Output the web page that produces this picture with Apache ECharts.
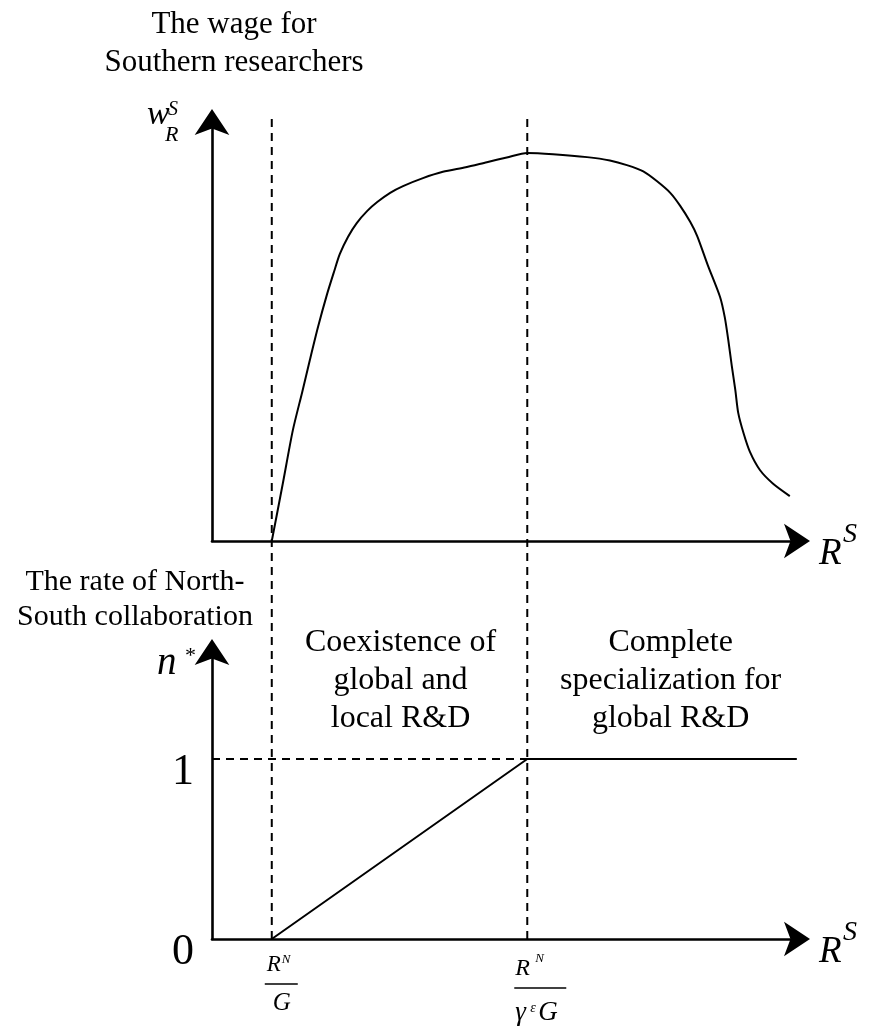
<!DOCTYPE html>
<html>
<head>
<meta charset="utf-8">
<title>Southern researchers' wage and North-South collaboration</title>
<script src="https://cdn.jsdelivr.net/npm/echarts@6/dist/echarts.min.js"></script>
<style>
  html, body { margin: 0; padding: 0; background: #ffffff; }
  #chart { width: 871px; height: 1028px; }
</style>
</head>
<body>
<div id="chart"></div>
<script>
// ---- data (R^S in arbitrary units) ----
// Threshold values of R^S: R^N/G and R^N/(γ^ε G)
const thresholds = [1.02, 5.38];

// Wage for Southern researchers w_R^S along R^S
const wageX = [1.02, 1.21, 1.38, 1.54, 1.67, 1.81, 1.96, 2.08, 2.18, 2.32, 2.47,
               2.65, 2.82, 3.04, 3.26, 3.60, 3.94, 4.33, 4.69, 5.03, 5.38,
               5.82, 6.40, 6.79, 7.08, 7.36, 7.59, 7.82, 7.99, 8.16, 8.28,
               8.46, 8.67, 8.75, 8.81, 8.87, 8.93, 8.98, 9.07, 9.18, 9.35, 9.57, 9.86];
const wageY = [0.00, 1.38, 2.64, 3.55, 4.31, 5.10, 5.86, 6.40, 6.83, 7.24, 7.57,
               7.86, 8.07, 8.29, 8.45, 8.64, 8.79, 8.90, 9.02, 9.13, 9.24,
               9.21, 9.14, 9.06, 8.95, 8.80, 8.57, 8.29, 7.98, 7.60, 7.26,
               6.57, 5.81, 5.33, 4.79, 4.17, 3.60, 3.05, 2.57, 2.12, 1.69, 1.37, 1.07];

// Rate of North-South collaboration n* along R^S
const nStarX = [1.02, 5.38, 9.98];
const nStarY = [0, 1, 1];

// Tick values and labels on the n* axis
const nStarTicks = [0, 1];
const nStarTickLabels = ['0', '1'];

// ---- drawing ----
const SERIF = '"Liberation Serif", "Times New Roman", serif';
const INK = '#000000';

const chart = echarts.init(document.getElementById('chart'), null, { renderer: 'canvas' });

const zip = (xs, ys) => xs.map((x, i) => [x, ys[i]]);

// the dashed guides run from the lower axis up through the upper panel
const GUIDE_TOP = 4.56;   // in n* units of the lower panel

function arrowAxisLine() {
  return {
    show: true,
    onZero: false,
    symbol: ['none', 'arrow'],
    symbolSize: [26, 26],
    symbolOffset: [0, 12],
    lineStyle: { color: INK, width: 2.6 }
  };
}

const dashedStyle = { color: INK, width: 2, type: [8, 6] };

const option = {
  backgroundColor: '#ffffff',
  animation: false,
  grid: [
    { left: 212, top: 121, width: 586, height: 420 },
    { left: 212, top: 651, width: 586, height: 288 }
  ],
  xAxis: [
    {
      gridIndex: 0, type: 'value', min: 0, max: 10,
      axisLine: arrowAxisLine(), axisTick: { show: false },
      axisLabel: { show: false }, splitLine: { show: false }
    },
    {
      gridIndex: 1, type: 'value', min: 0, max: 10,
      axisLine: arrowAxisLine(), axisTick: { show: false },
      axisLabel: { show: false }, splitLine: { show: false }
    }
  ],
  yAxis: [
    {
      gridIndex: 0, type: 'value', min: 0, max: 10,
      axisLine: arrowAxisLine(), axisTick: { show: false },
      axisLabel: { show: false }, splitLine: { show: false }
    },
    {
      gridIndex: 1, type: 'value', min: 0, max: 1.6,
      axisLine: arrowAxisLine(), axisTick: { show: false },
      splitLine: { show: false },
      axisLabel: {
        show: true,
        customValues: nStarTicks,
        margin: 18,
        formatter: (v) => '{d|' + nStarTickLabels[nStarTicks.indexOf(v)] + '}',
        rich: {
          d: { fontFamily: SERIF, fontSize: 44, color: INK, padding: [26, 0, 0, 0] }
        }
      }
    }
  ],
  series: [
    {
      name: 'wage', type: 'line', xAxisIndex: 0, yAxisIndex: 0,
      data: zip(wageX, wageY), smooth: 0.25, showSymbol: false,
      lineStyle: { color: INK, width: 2 }, silent: true
    },
    ...thresholds.map((t, i) => ({
      name: 'guide' + i, type: 'line', xAxisIndex: 1, yAxisIndex: 1,
      data: [[t, 0], [t, GUIDE_TOP]], clip: false, showSymbol: false,
      lineStyle: dashedStyle, silent: true
    })),
    {
      name: 'level', type: 'line', xAxisIndex: 1, yAxisIndex: 1,
      data: [[0, 1], [thresholds[1], 1]], showSymbol: false,
      lineStyle: dashedStyle, silent: true
    },
    {
      name: 'nStar', type: 'line', xAxisIndex: 1, yAxisIndex: 1,
      data: zip(nStarX, nStarY), showSymbol: false,
      lineStyle: { color: INK, width: 2 }, silent: true
    }
  ]
};

chart.setOption(option);

// ---- annotations ----
// text placed by its baseline
function txt(text, x, baseline, size, italic, align) {
  return {
    type: 'text', silent: true, z: 20,
    style: {
      text: text, x: x, y: baseline - 0.3375 * size,
      fontFamily: SERIF, fontSize: size, fontStyle: italic ? 'italic' : 'normal',
      fill: INK, align: align || 'left', verticalAlign: 'middle'
    }
  };
}
// multi-line centred block placed by its top
function block(text, cx, top, size, lineHeight) {
  return {
    type: 'text', silent: true, z: 20,
    style: {
      text: text, x: cx, y: top, fontFamily: SERIF, fontSize: size,
      lineHeight: lineHeight, fill: INK, align: 'center', verticalAlign: 'top'
    }
  };
}
function bar(x1, x2, y) {
  return {
    type: 'line', silent: true, z: 20,
    shape: { x1: x1, y1: y, x2: x2, y2: y },
    style: { stroke: INK, lineWidth: 1.5 }
  };
}

const topAxis = chart.convertToPixel({ gridIndex: 0 }, [0, 0]);
const topEnd = chart.convertToPixel({ gridIndex: 0 }, [10, 10]);
const lowAxis = chart.convertToPixel({ gridIndex: 1 }, [0, 0]);
const lowEnd = chart.convertToPixel({ gridIndex: 1 }, [10, 1.6]);
const p1 = chart.convertToPixel({ gridIndex: 1 }, [thresholds[0], 0])[0];
const p2 = chart.convertToPixel({ gridIndex: 1 }, [thresholds[1], 0])[0];
const arrowTip = topEnd[0] + 12;
const yTop = topAxis[1];
const yLow = lowAxis[1];
const xAx = topAxis[0];

const graphics = [
  // panel titles
  block('The wage for\nSouthern researchers', 234, 5.5, 31, 38),
  block('The rate of North-\nSouth collaboration', 135, 564.5, 30, 35),

  // regime descriptions
  block('Coexistence of\nglobal and\nlocal R&D', (p1 + p2) / 2 + 1, 624, 32, 38),
  block('Complete\nspecialization for\nglobal R&D', (p2 + arrowTip) / 2 + 2, 624, 32, 38),

  // w_R^S
  txt('w', xAx - 65, topEnd[1] + 6, 34, true),
  txt('S', xAx - 44, topEnd[1] - 5, 20, true),
  txt('R', xAx - 47, topEnd[1] + 22, 22, true),

  // R^S on both horizontal axes
  txt('R', arrowTip + 9, yTop + 26, 37, true),
  txt('S', arrowTip + 33, yTop + 3, 28, true),
  txt('R', arrowTip + 9, yLow + 26, 37, true),
  txt('S', arrowTip + 33, yLow + 3, 28, true),

  // n*
  txt('n', xAx - 55, lowEnd[1] + 26, 39, true),
  txt('*', xAx - 27, lowEnd[1] + 13, 22, false),

  // R^N / G
  txt('R', p1 - 5, yLow + 34, 23, true),
  txt('N', p1 + 10, yLow + 25, 13, true),
  bar(p1 - 7, p1 + 26, yLow + 45),
  txt('G', p1 + 1, yLow + 73, 25, true),

  // R^N / (γ^ε G)
  txt('R', p2 - 12, yLow + 38, 24, true),
  txt('N', p2 + 8, yLow + 24, 13, true),
  bar(p2 - 13, p2 + 39, yLow + 49),
  txt('γ', p2 - 12, yLow + 83, 27, true),
  txt('ε', p2 + 3, yLow + 74, 14, true),
  txt('G', p2 + 11, yLow + 83, 27, true)
];

chart.setOption({ graphic: graphics });
</script>
</body>
</html>
